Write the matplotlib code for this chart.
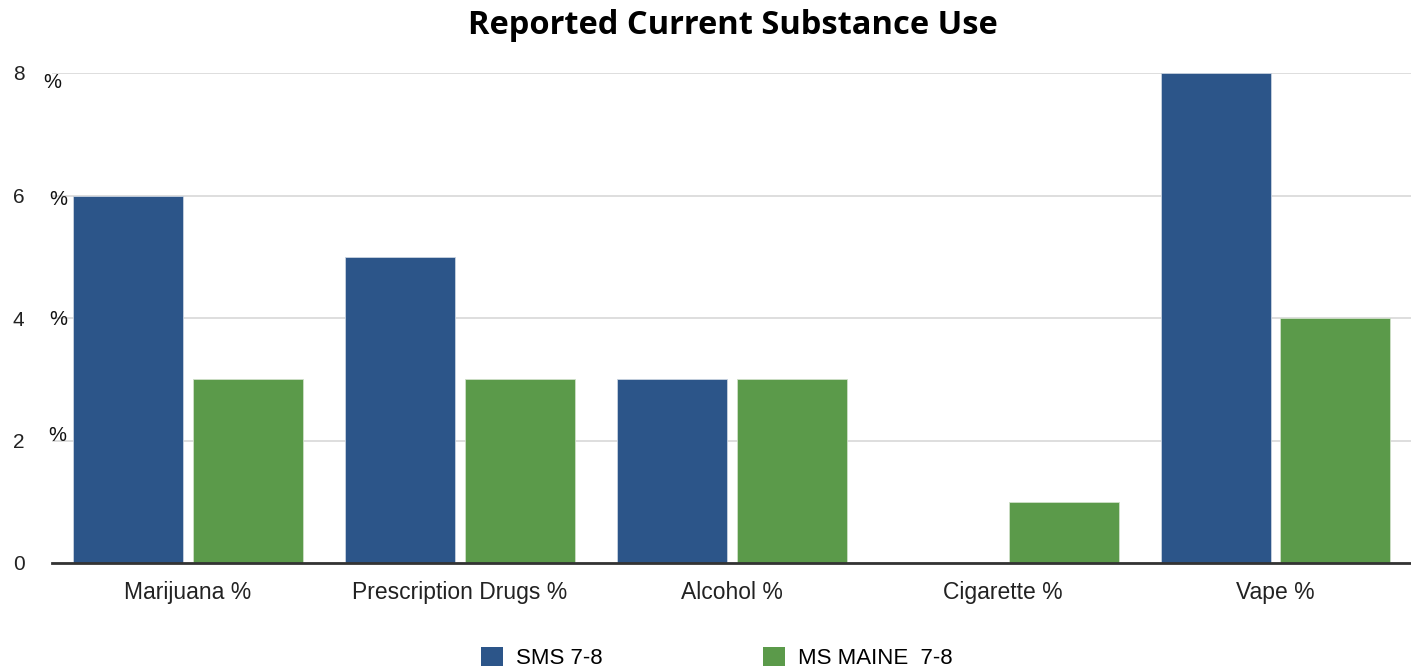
import numpy as np
import matplotlib.pyplot as plt
from matplotlib.patches import Patch

categories = ["Marijuana %", "Prescription Drugs %", "Alcohol %", "Cigarette %", "Vape %"]
sms = [6, 5, 3, 0, 8]
ms_maine = [3, 3, 3, 1, 4]
series_names = ["SMS 7-8", "MS MAINE  7-8"]
y_ticks = [0, 2, 4, 6, 8]

blue = "#2c5589"
green = "#5b9a4a"

plt.rcParams['font.family'] = ['Liberation Sans', 'DejaVu Sans']

fig = plt.figure(figsize=(14.11, 6.69), dpi=100)
ax = fig.add_axes([52 / 1411, 106 / 669, 1359 / 1411, 490 / 669])

x = np.arange(len(categories))
w = 0.405
ax.bar(x - 0.219, sms, w, color=blue, edgecolor="#c9d3e0", linewidth=0.6, zorder=3)
ax.bar(x + 0.222, ms_maine, w, color=green, edgecolor="#cfe0c8", linewidth=0.6, zorder=3)

ax.set_xlim(-0.5, len(categories) - 0.5)
ax.set_ylim(0, 8)
ax.set_yticks(y_ticks)
ax.set_yticklabels([str(t) for t in y_ticks], fontsize=15, color="#222222")
ax.set_xticks(x)
ax.set_xticklabels(categories, fontsize=16.5, color="#222222")
ax.tick_params(axis='both', length=0)
ax.tick_params(axis='y', pad=24)
ax.tick_params(axis='x', pad=13)
for lab in ax.get_yticklabels():
    lab.set_horizontalalignment('center')

ax.grid(axis='y', color="#d8d8d8", linewidth=1.2, zorder=0)
for s in ["top", "right", "left"]:
    ax.spines[s].set_visible(False)
ax.spines["bottom"].set_color("#333333")
ax.spines["bottom"].set_linewidth(2)
ax.spines["bottom"].set_zorder(4)

# stray percent signs next to the tick labels
trans = ax.get_yaxis_transform()
for t, dx, dy in zip([8, 6, 4, 2], [0.0, 0.0045, 0.0045, 0.004], [-0.16, -0.07, -0.03, 0.08]):
    ax.text(dx, t + dy, "%", transform=trans, ha="center", va="center",
            fontsize=14.5, color="#111111", zorder=5)

fig.text(0.5195, 0.962, "Reported Current Substance Use", ha="center", va="center",
         fontsize=23.5, fontweight="bold", family=["Open Sans", "DejaVu Sans"])

handles = [Patch(facecolor=blue, label=series_names[0]),
           Patch(facecolor=green, label=series_names[1])]
fig.legend(handles=handles, loc="lower center", bbox_to_anchor=(0.508, -0.03),
           ncol=2, frameon=False, fontsize=16, handlelength=1.0, handleheight=1.0,
           columnspacing=7.2, handletextpad=0.6)

fig.savefig("out.png", dpi=100)
